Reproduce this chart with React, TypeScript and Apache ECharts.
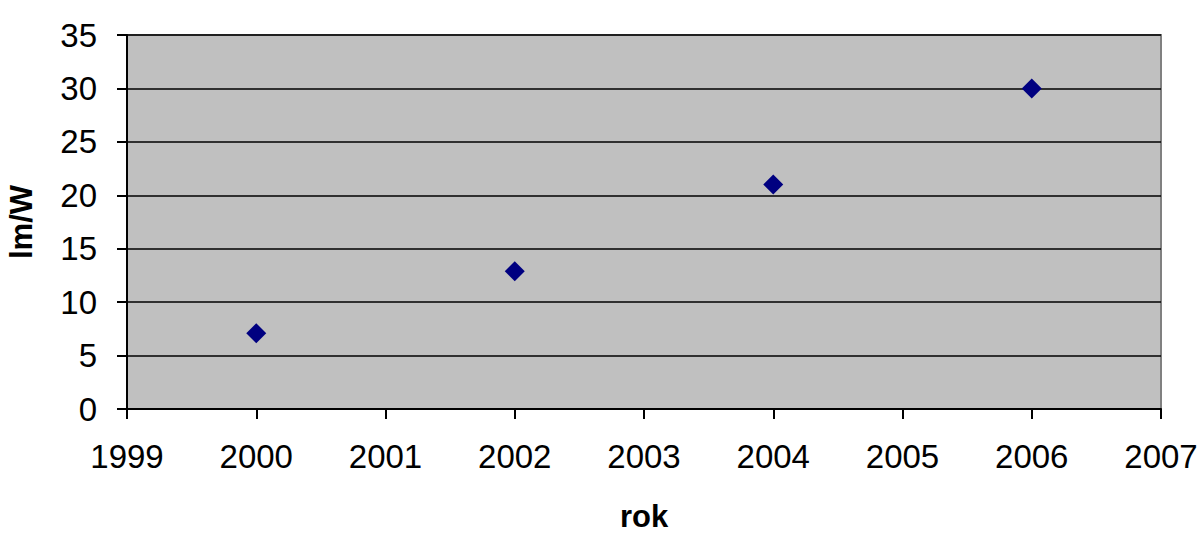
import React, { useEffect, useRef } from "react";
import * as echarts from "echarts";

const years = [2000, 2002, 2004, 2006];
const lmPerW = [7.1, 12.9, 21, 30];
const xTitle = "rok";
const yTitle = "lm/W";

export default function App() {
  const ref = useRef<HTMLDivElement>(null);
  useEffect(() => {
    const chart = echarts.init(ref.current!, null, { renderer: "svg" });
    const font = "'Liberation Sans', Arial, sans-serif";
    chart.setOption({
      animation: false,
      backgroundColor: "#ffffff",
      grid: {
        left: 127,
        right: 40,
        top: 35,
        bottom: 124,
        outerBoundsMode: "none",
        containLabel: false,
        show: true,
        backgroundColor: "#c0c0c0",
        borderColor: "#808080",
        borderWidth: 2,
      },
      xAxis: {
        type: "value",
        min: 1999,
        max: 2007,
        interval: 1,
        name: xTitle,
        nameLocation: "middle",
        nameGap: 92,
        nameTextStyle: { fontFamily: font, fontSize: 31, fontWeight: "bold", color: "#000" },
        axisLine: { show: true, onZero: false, lineStyle: { color: "#000", width: 2 } },
        axisTick: { show: true, inside: false, length: 10, lineStyle: { color: "#000", width: 2 } },
        axisLabel: {
          margin: 31,
          fontFamily: font,
          fontSize: 33,
          color: "#000",
          formatter: (v: number) => String(v),
        },
        splitLine: { show: false },
      },
      yAxis: {
        type: "value",
        min: 0,
        max: 35,
        interval: 5,
        name: yTitle,
        nameLocation: "middle",
        nameRotate: 90,
        nameGap: 90,
        nameTextStyle: { fontFamily: font, fontSize: 31, fontWeight: "bold", color: "#000" },
        axisLine: { show: true, lineStyle: { color: "#000", width: 2 } },
        axisTick: { show: true, inside: false, length: 10, lineStyle: { color: "#000", width: 2 } },
        axisLabel: { margin: 30, fontFamily: font, fontSize: 33, color: "#000" },
        splitLine: { show: true, lineStyle: { color: "#000", width: 1.5 } },
      },
      series: [
        {
          type: "scatter",
          data: years.map((y, i) => [y, lmPerW[i]]),
          symbol: "diamond",
          symbolSize: 20,
          itemStyle: { color: "#000080", opacity: 1 },
        },
      ],
    });
    return () => chart.dispose();
  }, []);
  return (
    <div
      ref={ref}
      style={{ position: "fixed", left: 0, top: 0, width: 1201, height: 533 }}
    />
  );
}
